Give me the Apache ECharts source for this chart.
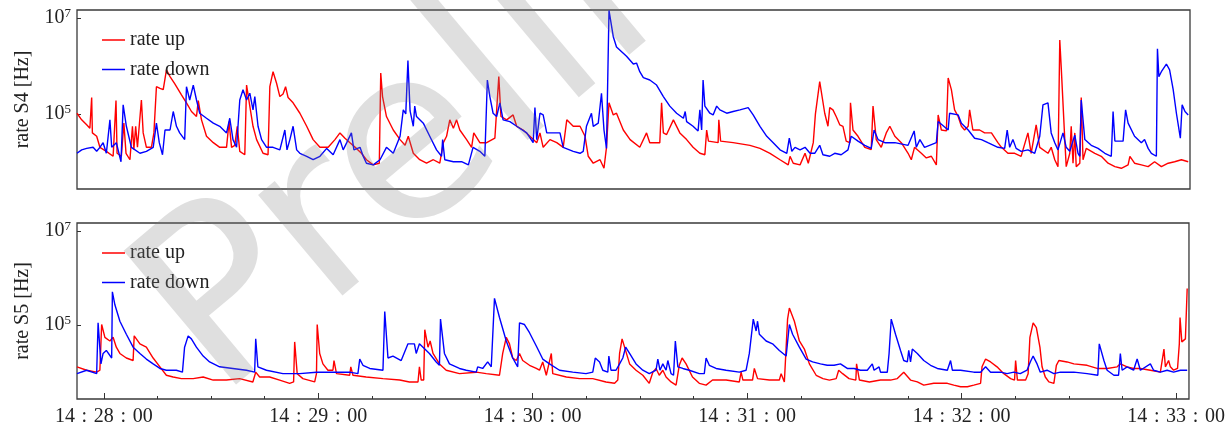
<!DOCTYPE html>
<html><head><meta charset="utf-8">
<script src="https://cdn.jsdelivr.net/npm/echarts@6/dist/echarts.min.js"></script>
<style>html,body{margin:0;padding:0;background:#fff}#c{width:1228px;height:427px}</style>
</head><body><div id="c"></div>
<script>
// time axis: seconds after 14:28:00
const xTickSeconds = [0, 60, 120, 180, 240, 300];
const xTickLabels = ['14 : 28 : 00', '14 : 29 : 00', '14 : 30 : 00', '14 : 31 : 00', '14 : 32 : 00', '14 : 33 : 00'];
const xMinorSeconds = [15, 30, 45, 75, 90, 105, 135, 150, 165, 195, 210, 225, 255, 270, 285];
const yTickValues = [1e5, 1e7];
const panelNames = ['rate S4 [Hz]', 'rate S5 [Hz]'];
const seriesNames = ['rate up', 'rate down'];

// [seconds, Hz]
const s4Up = [[-7.5,1.03e5],[-6.2,7.5e4],[-4.8,5.9e4],[-3.9,5.0e4],[-3.4,2.2e5],[-3.2,4.0e4],[-2.0,3.4e4],[-1.1,2.0e4],[0.7,1.65e4],[2.6,1.3e4],[3.4,1.9e5],[3.7,1.5e4],[4.9,1.3e4],[5.6,6.4e4],[6.2,1.5e4],[7.3,1.1e4],[8.0,5.5e4],[8.4,1.8e4],[8.9,5.5e4],[9.4,2.0e4],[10.5,1.95e5],[11.0,4.0e4],[11.9,2.0e4],[13.3,2.0e4],[14.0,4.0e4],[14.7,3.7e5],[15.7,3.4e5],[16.6,3.2e5],[17.5,8.3e5],[18.5,6.0e5],[19.8,4.3e5],[21.7,2.5e5],[23.1,1.7e5],[24.5,1.12e5],[25.9,8.8e4],[26.4,1.9e5],[27.3,7.5e4],[28.7,3.4e4],[30.6,2.5e4],[32.4,2.0e4],[34.3,2.0e4],[35.0,6.9e4],[35.7,2.0e4],[36.6,2.2e4],[37.3,5.5e4],[38.0,1.65e4],[39.4,1.4e4],[39.9,4.0e5],[40.8,1.45e5],[41.7,5.5e4],[42.7,2.9e4],[44.5,1.5e4],[45.9,1.4e4],[46.4,3.7e5],[47.3,7.6e5],[48.3,4.3e5],[49.2,2.3e5],[50.1,2.6e5],[50.8,3.7e5],[51.5,2.2e5],[52.9,1.7e5],[54.8,1.03e5],[56.7,5.5e4],[58.5,2.9e4],[60.4,2.0e4],[62.7,2.0e4],[64.6,2.9e4],[66.0,4.0e4],[67.4,3.1e4],[68.8,2.5e4],[70.6,1.9e4],[72.0,1.5e4],[73.4,1.1e4],[75.3,8.6e3],[77.0,9.3e3],[77.4,7.1e5],[77.9,2.3e5],[79.0,8.8e4],[80.9,4.6e4],[82.8,2.9e4],[84.2,2.2e4],[85.1,3.4e4],[86.5,1.5e4],[88.3,1.1e4],[90.2,9.3e3],[92.1,1.1e4],[93.9,9.3e3],[94.9,2.5e4],[95.8,3.4e4],[96.7,7.5e4],[97.7,5.0e4],[98.6,7.5e4],[99.5,4.6e4],[101.4,2.9e4],[102.8,2.0e4],[103.4,4.0e4],[105.1,2.5e4],[107.0,2.5e4],[109.3,3.1e4],[110.4,6.0e5],[111.0,8.8e4],[112.6,7.5e4],[114.4,9.5e4],[115.4,5.5e4],[117.2,4.6e4],[119.1,3.4e4],[121.0,2.5e4],[121.9,4.0e4],[122.8,2.0e4],[124.7,2.9e4],[126.6,2.5e4],[128.4,2.0e4],[129.4,7.5e4],[131.2,5.5e4],[133.1,5.5e4],[134.5,3.4e4],[135.4,1.3e4],[136.8,9.3e3],[138.7,1.1e4],[139.8,7.3e3],[140.5,2.0e4],[141.2,1.7e5],[142.4,9.5e4],[143.3,1.03e5],[145.2,4.6e4],[147.1,2.9e4],[149.8,2.0e4],[151.7,4.0e4],[152.6,2.5e4],[155.4,2.5e4],[155.9,1.7e5],[156.4,4.0e4],[157.3,3.7e4],[159.2,7.5e4],[161.0,4.0e4],[162.9,2.9e4],[164.7,2.0e4],[166.6,1.5e4],[168.0,1.4e4],[168.5,4.6e4],[169.0,2.7e4],[171.7,2.5e4],[171.9,7.5e4],[172.4,2.7e4],[175.9,2.5e4],[180.6,2.2e4],[183.4,1.9e4],[186.2,1.5e4],[189.0,1.1e4],[191.3,8.6e3],[191.8,1.3e4],[192.7,9.3e3],[194.6,8.6e3],[196.0,1.5e4],[196.9,9.3e3],[198.3,2.5e4],[198.9,1.0e5],[200.1,4.7e5],[201.5,1.03e5],[202.4,5.5e4],[202.9,1.35e5],[203.8,1.21e5],[204.7,8.8e4],[205.7,5.9e4],[206.6,5.5e4],[207.5,2.7e4],[208.5,2.5e4],[208.7,1.7e5],[209.4,4.6e4],[210.8,3.4e4],[212.7,2.0e4],[214.5,1.8e4],[215.0,1.45e5],[215.9,2.9e4],[217.3,2.0e4],[218.7,4.0e4],[219.7,5.5e4],[221.1,3.4e4],[222.9,2.5e4],[224.8,1.5e4],[225.7,1.1e4],[226.6,2.0e4],[228.5,1.5e4],[229.9,1.2e4],[231.3,1.3e4],[232.7,8.6e3],[233.2,9.5e4],[234.1,4.6e4],[235.5,4.4e4],[236.0,5.6e5],[236.9,3.2e5],[237.8,1.21e5],[238.8,8.8e4],[239.7,5.5e4],[240.6,4.6e4],[241.6,5.5e4],[242.0,1.21e5],[242.9,4.6e4],[244.8,4.6e4],[246.2,4.0e4],[248.1,4.0e4],[249.9,2.5e4],[250.9,2.0e4],[252.7,1.5e4],[254.6,1.5e4],[256.4,1.3e4],[258.3,4.0e4],[259.2,1.5e4],[260.6,5.9e4],[261.6,2.0e4],[263.9,1.5e4],[264.8,2.0e4],[265.8,1.1e4],[266.7,7.9e3],[267.2,3.5e6],[267.6,9.6e5],[268.6,2.9e4],[269.0,7.9e3],[270.0,1.5e4],[270.4,5.5e4],[270.9,9.3e3],[271.4,4.0e4],[271.8,7.9e3],[272.8,9.3e3],[273.2,2.2e5],[273.7,1.1e4],[274.6,1.9e4],[277.0,1.5e4],[278.8,1.3e4],[280.7,9.3e3],[282.6,7.9e3],[284.4,7.3e3],[286.3,8.6e3],[286.8,1.3e4],[288.1,9.3e3],[290.0,8.6e3],[291.9,7.9e3],[293.7,1.0e4],[295.6,7.9e3],[297.5,9.3e3],[299.3,1.0e4],[301.2,1.1e4],[303.1,1.0e4]];

const s4Down = [[-7.5,1.5e4],[-6.2,1.77e4],[-4.8,1.9e4],[-3.0,2.0e4],[-2.0,1.65e4],[-1.1,2.0e4],[-0.2,2.5e4],[0.7,1.5e4],[1.7,7.5e4],[2.2,2.0e4],[3.5,2.5e4],[4.8,1.0e4],[5.4,1.54e5],[6.3,5.5e4],[7.7,2.0e4],[10.1,1.5e4],[11.9,1.65e4],[13.8,2.0e4],[14.7,6.4e4],[15.5,2.5e4],[16.4,1.4e4],[17.1,4.6e4],[18.5,4.6e4],[19.4,1.12e5],[20.3,5.5e4],[21.2,4.0e4],[22.6,2.9e4],[23.1,3.7e5],[24.0,1.95e5],[25.0,4.0e5],[25.9,1.95e5],[26.8,1.03e5],[28.7,8.1e4],[30.6,6.4e4],[32.4,5.5e4],[34.3,4.0e4],[35.2,8.1e4],[36.1,2.9e4],[37.1,2.0e4],[38.0,1.95e5],[38.9,3.2e5],[39.9,1.95e5],[40.8,2.7e5],[41.7,1.21e5],[42.2,2.3e5],[43.1,5.5e4],[44.1,2.9e4],[45.5,2.0e4],[47.3,2.0e4],[49.2,1.77e4],[50.6,4.6e4],[51.2,1.77e4],[52.0,2.9e4],[52.9,5.5e4],[53.9,1.77e4],[54.8,1.5e4],[56.7,1.3e4],[58.5,1.1e4],[60.4,1.3e4],[62.3,1.9e4],[64.1,1.4e4],[66.0,2.9e4],[66.9,1.77e4],[67.9,2.5e4],[69.2,4.0e4],[69.9,1.77e4],[71.6,2.0e4],[72.5,1.3e4],[73.4,9.3e3],[75.3,8.6e3],[77.2,1.1e4],[79.0,2.0e4],[80.9,1.5e4],[82.8,3.4e4],[83.7,1.21e5],[84.4,1.0e5],[85.0,1.3e6],[85.6,1.15e5],[86.5,5.5e4],[86.9,1.45e5],[87.4,8.8e4],[89.3,6.4e4],[91.1,3.4e4],[93.0,1.77e4],[94.4,1.3e4],[94.7,2.9e4],[95.3,1.1e4],[97.7,1.0e4],[100.0,1.0e4],[101.9,8.6e3],[103.2,2.0e4],[105.1,1.65e4],[106.5,1.3e4],[107.2,5.1e5],[107.9,2.3e5],[108.8,1.03e5],[109.8,8.8e4],[110.7,1.7e5],[111.6,7.5e4],[113.5,6.9e4],[115.4,5.5e4],[118.2,4.0e4],[120.0,2.5e4],[120.5,1.35e5],[121.0,2.9e4],[121.9,1.03e5],[122.8,9.5e4],[123.8,4.0e4],[125.6,4.0e4],[127.5,4.0e4],[128.4,2.0e4],[131.2,1.65e4],[133.1,1.5e4],[134.0,1.65e4],[134.9,5.5e4],[136.3,1.03e5],[136.8,5.5e4],[138.2,6.4e4],[139.1,2.7e5],[139.8,4.6e4],[140.5,1.9e4],[141.2,1.45e7],[142.4,4.1e6],[143.3,2.5e6],[146.1,1.6e6],[148.0,1.1e6],[148.9,1.15e6],[149.8,7.6e5],[150.8,5.7e5],[152.6,5.1e5],[154.5,4.0e5],[156.4,2.3e5],[158.2,1.45e5],[160.1,1.03e5],[162.0,8.1e4],[162.5,1.12e5],[162.9,6.9e4],[164.7,5.5e4],[166.1,4.4e4],[166.6,1.21e5],[167.1,4.6e4],[167.5,5.1e5],[168.0,1.45e5],[169.4,1.03e5],[170.3,9.5e4],[171.3,1.45e5],[172.2,1.21e5],[174.1,1.03e5],[175.9,1.12e5],[177.8,1.21e5],[180.1,1.35e5],[181.5,9.5e4],[183.4,5.5e4],[185.3,3.4e4],[187.1,2.5e4],[189.0,1.77e4],[190.9,1.5e4],[191.6,3.1e4],[192.3,1.65e4],[193.2,2.0e4],[194.6,1.77e4],[196.0,2.0e4],[197.4,1.5e4],[198.7,1.5e4],[200.1,2.2e4],[201.0,1.4e4],[202.9,1.3e4],[204.3,1.5e4],[206.1,1.4e4],[208.0,1.77e4],[208.9,3.4e4],[210.8,2.7e4],[212.7,2.2e4],[214.5,1.9e4],[215.3,4.6e4],[216.4,2.9e4],[218.3,2.5e4],[221.1,2.5e4],[224.8,2.2e4],[226.5,4.4e4],[227.1,2.0e4],[228.1,2.9e4],[229.4,2.0e4],[232.7,2.5e4],[233.2,6.9e4],[236.0,4.6e4],[236.4,1.03e5],[238.8,9.5e4],[239.7,6.4e4],[241.6,4.6e4],[243.4,3.1e4],[245.3,2.9e4],[247.1,2.5e4],[249.9,2.0e4],[251.8,1.9e4],[252.5,4.6e4],[253.2,2.0e4],[254.1,2.9e4],[255.0,1.9e4],[256.4,1.65e4],[258.3,1.77e4],[260.2,1.5e4],[261.6,3.4e4],[262.5,1.54e5],[263.9,1.7e5],[264.8,4.0e4],[265.8,2.5e4],[266.7,1.77e4],[268.1,4.0e4],[269.0,2.0e4],[270.0,1.65e4],[271.4,3.6e4],[272.3,1.5e4],[272.8,1.3e4],[273.2,1.95e5],[274.2,2.9e4],[276.0,2.2e4],[277.9,1.9e4],[279.8,1.5e4],[281.6,1.3e4],[282.1,1.12e5],[282.6,2.7e4],[284.9,2.7e4],[285.6,1.21e5],[286.3,6.4e4],[288.1,3.4e4],[290.0,2.5e4],[290.9,2.9e4],[291.9,1.9e4],[292.8,1.5e4],[294.2,1.3e4],[294.5,2.3e6],[294.9,6.0e5],[295.6,7.6e5],[297.0,1.1e6],[297.9,8.3e5],[298.9,3.2e5],[299.8,1.03e5],[300.9,3.1e4],[301.4,1.54e5],[302.2,1.12e5],[303.1,9.5e4]];

const s5Up = [[-7.5,1.3e4],[-4.8,1.1e4],[-2.0,1.0e4],[-1.1,1.1e4],[-0.6,1.03e5],[0.3,5.5e4],[1.7,4.6e4],[2.6,5.5e4],[3.5,3.4e4],[4.5,2.5e4],[6.3,2.0e4],[8.2,1.77e4],[8.5,5.9e4],[10.1,4.0e4],[11.9,3.4e4],[13.8,2.0e4],[15.7,1.3e4],[17.5,8.6e3],[19.4,7.9e3],[21.7,7.3e3],[25.0,7.3e3],[27.8,7.9e3],[30.6,6.8e3],[34.3,6.8e3],[38.0,7.3e3],[41.7,6.2e3],[42.5,1.0e4],[43.6,7.9e3],[46.4,7.9e3],[49.2,6.8e3],[52.0,5.8e3],[53.1,6.2e3],[53.4,4.4e4],[54.1,9.3e3],[55.7,7.3e3],[59.0,6.2e3],[59.5,9.3e3],[59.7,1.03e5],[60.4,2.5e4],[61.3,1.5e4],[62.7,1.1e4],[64.1,1.1e4],[64.4,1.77e4],[65.1,9.3e3],[68.8,8.6e3],[69.1,1.3e4],[69.7,8.6e3],[73.4,7.9e3],[78.1,7.3e3],[82.8,6.8e3],[85.5,6.2e3],[87.9,6.2e3],[88.3,1.3e4],[88.8,6.8e3],[89.5,6.8e3],[89.8,8.0e4],[90.7,3.4e4],[91.3,4.6e4],[92.1,2.5e4],[93.9,1.5e4],[95.8,1.1e4],[99.5,9.3e3],[104.2,1.0e4],[107.0,9.3e3],[110.7,8.6e3],[111.6,2.5e4],[112.6,5.5e4],[113.5,4.0e4],[114.4,2.0e4],[115.4,1.77e4],[116.3,2.5e4],[117.2,1.77e4],[119.1,1.4e4],[121.0,1.2e4],[121.9,1.1e4],[122.8,1.65e4],[123.8,8.6e3],[125.2,2.5e4],[125.6,9.3e3],[129.4,7.9e3],[133.1,7.3e3],[136.8,7.3e3],[140.5,6.2e3],[142.9,5.8e3],[143.8,6.8e3],[144.3,2.5e4],[145.0,5.1e4],[145.7,3.4e4],[147.1,1.5e4],[148.9,1.1e4],[150.8,8.6e3],[152.6,5.8e3],[153.6,1.0e4],[154.5,1.2e4],[155.4,8.6e3],[156.4,1.1e4],[157.3,7.9e3],[158.7,6.2e3],[160.1,5.3e3],[161.0,1.4e4],[161.8,2.0e4],[162.9,1.5e4],[164.7,7.9e3],[166.6,5.8e3],[168.5,5.3e3],[170.3,6.8e3],[174.1,6.8e3],[177.8,6.2e3],[178.3,1.0e4],[178.8,6.8e3],[181.5,6.8e3],[182.0,1.2e4],[182.9,7.3e3],[186.2,6.8e3],[189.0,6.8e3],[189.5,9.3e3],[190.4,6.2e3],[191.3,1.34e5],[191.8,2.3e5],[193.2,1.21e5],[194.6,4.6e4],[196.0,3.1e4],[197.4,1.5e4],[199.3,8.6e3],[201.2,7.3e3],[203.0,6.8e3],[204.9,7.3e3],[205.6,1.1e4],[206.7,9.3e3],[208.5,7.3e3],[210.4,6.8e3],[210.6,1.5e4],[211.4,6.8e3],[214.2,6.2e3],[217.3,6.8e3],[220.1,6.8e3],[222.0,7.3e3],[223.8,1.0e4],[225.7,6.8e3],[227.6,6.2e3],[229.4,5.3e3],[232.2,5.8e3],[236.0,5.8e3],[237.8,5.3e3],[239.7,4.9e3],[241.6,4.9e3],[243.4,5.3e3],[245.3,5.8e3],[245.7,1.3e4],[246.7,1.9e4],[248.1,1.65e4],[249.9,1.3e4],[251.8,9.3e3],[253.7,7.3e3],[254.8,6.8e3],[255.1,1.77e4],[255.6,6.8e3],[257.9,6.8e3],[258.6,9.3e3],[259.1,5.5e4],[260.0,1.12e5],[260.9,8.8e4],[261.9,3.4e4],[262.5,1.3e4],[263.4,7.9e3],[264.4,6.2e3],[265.8,5.8e3],[266.5,1.4e4],[267.2,1.77e4],[269.5,1.65e4],[271.4,1.5e4],[275.1,1.4e4],[277.9,1.2e4],[280.7,1.2e4],[283.5,1.3e4],[284.4,1.5e4],[286.3,1.3e4],[288.1,1.2e4],[290.0,1.2e4],[292.8,1.1e4],[295.6,1.0e4],[296.6,3.1e4],[297.0,1.3e4],[297.9,1.77e4],[298.4,1.3e4],[299.3,1.1e4],[300.4,1.2e4],[300.9,4.0e4],[301.1,1.45e5],[301.6,4.4e4],[302.6,5.1e4],[303.1,6.0e5]];

const s5Down = [[-7.5,9.3e3],[-4.8,1.1e4],[-2.0,9.3e3],[-1.6,1.12e5],[-0.8,1.5e4],[-0.2,2.5e4],[0.7,2.9e4],[2.2,2.0e4],[2.4,5.1e5],[3.1,2.7e5],[4.5,1.21e5],[6.3,6.4e4],[8.2,3.4e4],[10.1,2.5e4],[11.9,1.9e4],[13.8,1.5e4],[15.7,1.2e4],[17.5,1.1e4],[20.3,1.1e4],[22.0,1.0e4],[22.6,3.4e4],[23.6,5.9e4],[24.5,5.1e4],[25.9,3.4e4],[27.8,2.2e4],[29.6,1.65e4],[32.4,1.3e4],[36.1,1.2e4],[39.9,1.1e4],[42.2,1.0e4],[42.5,5.1e4],[43.1,1.3e4],[45.5,1.1e4],[50.1,9.3e3],[54.8,9.3e3],[59.5,1.0e4],[64.1,1.0e4],[68.8,1.0e4],[71.1,9.3e3],[71.6,1.9e4],[72.5,1.4e4],[74.4,1.2e4],[78.1,1.1e4],[78.6,1.95e5],[79.5,2.0e4],[80.9,2.2e4],[83.2,1.77e4],[85.1,4.0e4],[86.9,4.0e4],[87.4,2.5e4],[88.3,4.0e4],[89.3,3.4e4],[91.1,2.5e4],[93.0,1.65e4],[93.9,1.4e4],[94.2,1.34e5],[95.3,2.5e4],[96.7,1.5e4],[99.5,1.2e4],[101.4,1.1e4],[104.2,1.0e4],[104.6,1.3e4],[106.0,1.2e4],[107.4,1.65e4],[108.4,1.3e4],[109.3,3.7e5],[110.7,1.45e5],[112.6,4.6e4],[114.4,2.0e4],[115.8,1.3e4],[116.3,1.12e5],[117.7,1.03e5],[119.1,6.9e4],[121.0,3.6e4],[122.8,1.9e4],[124.7,1.5e4],[127.5,1.1e4],[131.2,1.0e4],[134.9,9.3e3],[136.8,1.0e4],[137.5,2.0e4],[138.7,1.65e4],[139.6,1.1e4],[141.0,1.0e4],[141.3,2.2e4],[141.9,1.1e4],[143.3,1.1e4],[144.3,1.5e4],[145.2,2.0e4],[146.0,3.4e4],[147.1,2.5e4],[148.9,1.5e4],[150.8,1.1e4],[152.6,9.3e3],[154.5,1.1e4],[155.0,1.9e4],[155.6,1.1e4],[156.4,1.5e4],[157.3,1.1e4],[157.8,1.77e4],[158.7,9.3e3],[159.4,8.6e3],[159.9,4.6e4],[160.6,1.3e4],[162.0,1.2e4],[163.8,1.1e4],[166.6,9.3e3],[168.0,9.3e3],[168.5,2.0e4],[169.4,1.4e4],[171.3,1.2e4],[174.1,1.1e4],[177.8,1.0e4],[179.7,1.1e4],[180.6,2.5e4],[181.7,1.34e5],[182.5,7.5e4],[182.9,1.21e5],[183.4,6.4e4],[185.3,4.6e4],[187.1,4.0e4],[189.0,2.9e4],[190.9,2.2e4],[191.8,1.03e5],[192.7,6.4e4],[194.6,3.4e4],[196.5,1.9e4],[198.3,1.65e4],[200.5,1.5e4],[202.4,1.4e4],[204.3,1.4e4],[206.1,1.5e4],[208.0,1.2e4],[209.9,1.2e4],[211.7,1.1e4],[213.6,1.1e4],[215.0,1.5e4],[215.5,1.1e4],[216.9,1.3e4],[217.3,1.0e4],[219.2,1.0e4],[219.7,2.5e4],[220.3,1.34e5],[221.5,6.4e4],[222.9,2.9e4],[223.8,1.77e4],[224.8,1.65e4],[225.2,2.9e4],[225.7,1.65e4],[226.2,3.1e4],[227.6,2.5e4],[229.4,1.77e4],[231.3,1.4e4],[233.2,1.2e4],[236.0,1.1e4],[236.9,1.77e4],[237.4,1.1e4],[239.7,1.1e4],[243.4,1.0e4],[245.3,1.0e4],[246.7,1.3e4],[248.1,1.0e4],[250.9,1.0e4],[252.7,9.3e3],[254.6,1.0e4],[256.4,9.3e3],[258.3,1.1e4],[259.2,1.65e4],[260.0,2.2e4],[261.1,1.5e4],[262.0,1.0e4],[263.9,1.1e4],[265.8,9.3e3],[267.6,1.0e4],[271.4,1.0e4],[275.1,9.3e3],[278.1,8.6e3],[278.5,4.0e4],[279.8,1.77e4],[280.7,1.1e4],[282.6,8.6e3],[283.9,8.6e3],[284.4,2.5e4],[284.9,1.1e4],[286.3,1.3e4],[288.1,1.1e4],[289.1,1.9e4],[290.0,1.1e4],[292.8,1.5e4],[293.7,1.1e4],[295.6,1.0e4],[297.5,1.1e4],[299.3,1.0e4],[301.2,1.1e4],[303.1,1.1e4]];

const FONT = '"Liberation Serif", "DejaVu Serif", serif';
const X_MIN = -7.5, X_MAX = 303.6;
const Y_MIN = 2692, Y_MAX = 1.479e7;
const RED = '#ff0000', BLUE = '#0000ff';

const chart = echarts.init(document.getElementById('c'), null, {renderer: 'canvas'});

function tickLabel(v) {
  const i = xTickSeconds.indexOf(Math.round(v));
  return i < 0 ? '' : xTickLabels[i].replace(/ /g, '\u2004');
}

const grids = [
  {left: 77, top: 10, width: 1113, height: 179},
  {left: 77, top: 223, width: 1113, height: 179}
].map(g => Object.assign(g, {show: true, borderColor: '#3a3a3a', borderWidth: 1.3, backgroundColor: 'transparent', containLabel: false}));

const yAxes = panelNames.map((name, i) => ({
  type: 'log', logBase: 10, gridIndex: i, min: Y_MIN, max: Y_MAX, position: 'left',
  name: name, nameLocation: 'middle', nameGap: 44,
  nameTextStyle: {fontFamily: FONT, fontSize: 20, color: '#222'},
  axisLine: {show: false, onZero: false},
  splitLine: {show: false},
  minorTick: {show: false},
  axisTick: {show: true, inside: true, length: 4, customValues: yTickValues, lineStyle: {color: '#333', width: 1}},
  axisLabel: {
    show: true, margin: 6, customValues: yTickValues,
    formatter: v => '{a|10}{b|' + Math.round(Math.log10(v)) + '}',
    rich: {
      a: {fontFamily: FONT, fontSize: 20, color: '#222', lineHeight: 22},
      b: {fontFamily: FONT, fontSize: 13, color: '#222', verticalAlign: 'top', lineHeight: 14}
    }
  }
}));

const xAxes = [
  {type: 'value', gridIndex: 0, min: X_MIN, max: X_MAX, position: 'bottom', axisLine: {show: false, onZero: false}, axisTick: {show: false}, axisLabel: {show: false}, splitLine: {show: false}},
  {type: 'value', gridIndex: 1, min: X_MIN, max: X_MAX, position: 'bottom', axisLine: {show: false, onZero: false}, splitLine: {show: false},
   axisTick: {show: true, inside: true, length: 6, customValues: xTickSeconds, lineStyle: {color: '#333', width: 1}},
   axisLabel: {show: true, customValues: xTickSeconds, formatter: tickLabel, margin: 8, fontFamily: FONT, fontSize: 20, color: '#222'}},
  {type: 'value', gridIndex: 1, min: X_MIN, max: X_MAX, position: 'bottom', axisLine: {show: false, onZero: false}, splitLine: {show: false},
   axisTick: {show: true, inside: true, length: 3, customValues: xMinorSeconds, lineStyle: {color: '#333', width: 1}},
   axisLabel: {show: false}}
];

function line(name, data, color, xi, yi) {
  return {name: name, type: 'line', xAxisIndex: xi, yAxisIndex: yi, data: data,
    symbol: 'none', showSymbol: false, sampling: null, animation: false,
    lineStyle: {color: color, width: 1.4}, itemStyle: {color: color}};
}

const legends = [25, 238].map(top => ({
  left: 97, top: top, orient: 'vertical', icon: 'rect', itemWidth: 23, itemHeight: 1.5, itemGap: 9.5,
  data: seriesNames, selectedMode: false,
  textStyle: {fontFamily: FONT, fontSize: 20, color: '#222', lineHeight: 20}
}));

chart.setOption({
  animation: false,
  backgroundColor: '#fff',
  grid: grids,
  xAxis: xAxes,
  yAxis: yAxes,
  legend: legends,
  series: [
    line(seriesNames[0], s4Up, RED, 0, 0),
    line(seriesNames[1], s4Down, BLUE, 0, 0),
    line(seriesNames[0], s5Up, RED, 1, 1),
    line(seriesNames[1], s5Down, BLUE, 1, 1)
  ],
  graphic: [{
    type: 'text', x: 178, y: 352, rotation: 40 * Math.PI / 180, z: 100, silent: true,
    style: {text: 'Preliminary', fontFamily: '"DejaVu Sans", sans-serif', fontSize: 240,
      fill: 'rgba(128,128,128,0.25)', align: 'left', verticalAlign: 'middle'}
  }]
});
</script>
</body></html>
